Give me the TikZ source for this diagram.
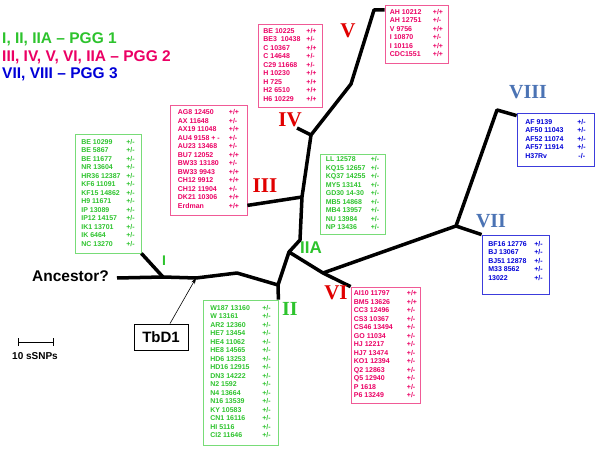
\documentclass[tikz,border=0pt]{standalone}
\usepackage{fontspec}
\setmainfont{Liberation Sans}
\newfontfamily\numfont{Liberation Serif}
\usetikzlibrary{arrows.meta,calc}
\definecolor{pgggreen}{RGB}{45,195,45}
\definecolor{boxgreen}{RGB}{120,220,120}
\definecolor{pggpink}{RGB}{235,0,100}
\definecolor{boxpink}{RGB}{240,90,150}
\definecolor{pggblue}{RGB}{0,0,215}
\definecolor{boxblue}{RGB}{60,60,220}
\definecolor{cladered}{RGB}{225,0,0}
\definecolor{cladeblue}{RGB}{75,115,180}
\tikzset{
  snpbox/.style={draw,line width=0.8pt,inner sep=0pt,font=\fontsize{7}{8.5}\selectfont\bfseries},
  greenbox/.style={snpbox,draw=boxgreen,text=pgggreen},
  pinkbox/.style={snpbox,draw=boxpink,text=pggpink},
  bluebox/.style={snpbox,draw=boxblue,text=pggblue},
  branch/.style={line width=3.5pt,line join=round},
  legend/.style={anchor=west,inner sep=0pt,font=\fontsize{15.5}{18}\selectfont\bfseries},
  redclade/.style={inner sep=0pt,text=cladered,font=\fontsize{21}{21}\selectfont\bfseries\numfont},
  blueclade/.style={inner sep=0pt,text=cladeblue,font=\fontsize{20}{20}\selectfont\bfseries\numfont}
}
\begin{document}
\begin{tikzpicture}[x=1pt,y=-1pt]
\useasboundingbox (0,0) rectangle (600,449);
\node[legend,text=pgggreen] (pgg1) at (2,39) {I, II, IIA – PGG 1};
\node[legend,text=pggpink] (pgg2) at (2,57) {III, IV, V, VI, IIA – PGG 2};
\node[legend,text=pggblue] (pgg3) at (2,74) {VII, VIII – PGG 3};

\node[greenbox,minimum width=66,minimum height=119] (boxI) at (108,193.5) {\begin{tabular}{@{}p{45pt}@{}l@{}}
BE 10299 & +/-\\ BE 5867 & +/-\\ BE 11677 & +/-\\ NR 13604 & +/-\\ HR36 12387 & +/-\\
KF6 11091 & +/-\\ KF15 14862 & +/-\\ H9 11671 & +/-\\ IP 13089 & +/-\\ IP12 14157 & +/-\\
IK1 13701 & +/-\\ IK 6464 & +/-\\ NC 13270 & +/-
\end{tabular}};
\node[pinkbox,minimum width=77,minimum height=110] (boxIII) at (208.5,160) {\begin{tabular}{@{}p{51pt}@{}l@{}}
AG8 12450 & +/+\\ AX 11648 & +/-\\ AX19 11048 & +/+\\ AU4 9158 + - & +/-\\ AU23 13468 & +/-\\
BU7 12052 & +/+\\ BW33 13180 & +/-\\ BW33 9943 & +/+\\ CH12 9912 & +/+\\ CH12 11904 & +/-\\
DK21 10306 & +/+\\ Erdman & +/+
\end{tabular}};
\node[pinkbox,minimum width=64,minimum height=83] (boxIV) at (290,65.5) {\begin{tabular}{@{}p{43pt}@{}l@{}}
BE 10225 & +/+\\ BE3\ \ 10438 & +/-\\ C 10367 & +/+\\ C 14648 & +/-\\ C29 11668 & +/-\\
H 10230 & +/+\\ H 725 & +/+\\ H2 6510 & +/+\\ H6 10229 & +/+
\end{tabular}};
\node[pinkbox,minimum width=63,minimum height=58] (boxV) at (416.5,34) {\begin{tabular}{@{}p{43pt}@{}l@{}}
AH 10212 & +/+\\ AH 12751 & +/-\\ V 9756 & +/+\\ I 10870 & +/-\\ I 10116 & +/+\\ CDC1551 & +/+
\end{tabular}};
\node[greenbox,minimum width=65,minimum height=80] (boxIIA) at (352.5,194) {\begin{tabular}{@{}p{45pt}@{}l@{}}
LL 12578 & +/-\\ KQ15 12657 & +/-\\ KQ37 14255 & +/-\\ MY5 13141 & +/-\\ GD30 14-30 & +/-\\
MB5 14868 & +/-\\ MB4 13957 & +/-\\ NU 13984 & +/-\\ NP 13436 & +/-
\end{tabular}};
\node[greenbox,minimum width=75,minimum height=145] (boxII) at (240.5,372.5) {\begin{tabular}{@{}p{52pt}@{}l@{}}
W187 13160 & +/-\\ W 13161 & +/-\\ AR2 12360 & +/-\\ HE7 13454 & +/-\\ HE4 11062 & +/-\\
HE8 14565 & +/-\\ HD6 13253 & +/-\\ HD16 12915 & +/-\\ DN3 14222 & +/-\\ N2 1592 & +/-\\
N4 13664 & +/-\\ N16 13539 & +/-\\ KY 10583 & +/-\\ CN1 16116 & +/-\\ HI 5116 & +/-\\
CI2 11646 & +/-
\end{tabular}};
\node[pinkbox,minimum width=69,minimum height=116] (boxVI) at (385.5,345) {\begin{tabular}{@{}p{53pt}@{}l@{}}
AI10 11797 & +/+\\ BM5 13626 & +/+\\ CC3 12496 & +/-\\ CS3 10367 & +/-\\ CS46 13494 & +/-\\
GO 11034 & +/-\\ HJ 12217 & +/-\\ HJ7 13474 & +/-\\ KO1 12394 & +/-\\ Q2 12863 & +/-\\
Q5 12940 & +/-\\ P 1618 & +/-\\ P6 13249 & +/-
\end{tabular}};
\node[bluebox,minimum width=67,minimum height=59] (boxVII) at (515.5,264.5) {\begin{tabular}{@{}p{46pt}@{}l@{}}
BF16 12776 & +/-\\ BJ 13067 & +/-\\ BJ51 12878 & +/-\\ M33 8562 & +/-\\ 13022 & +/-\\[6pt]
\end{tabular}};
\node[bluebox,minimum width=77,minimum height=53] (boxVIII) at (555.5,139.5) {\begin{tabular}{@{}p{52pt}@{}l@{}}
AF 9139 & +/-\\ AF50 11043 & +/-\\ AF52 11074 & +/-\\ AF57 11914 & +/-\\ H37Rv & \,-/-
\end{tabular}};

\coordinate (anc) at (117,278);
\coordinate (Ij) at (163,277);
\coordinate (tb) at (196,278);
\coordinate (bend) at (237,273);
\coordinate (IIj) at (278,285);
\coordinate (Aj) at (289,252);
\coordinate (IIAj) at (300,240);
\coordinate (IIIj) at (302,197);
\coordinate (IVj) at (311,135);
\coordinate (IVend) at (297,128);
\coordinate (Vbend) at (351,84);
\coordinate (Vj) at (374,10);
\coordinate (VIj) at (323,273);
\coordinate (VIIj) at (456,226);
\coordinate (VIIIj) at (497,110);

\draw[branch] (anc) -- (Ij) -- (tb) -- (bend) -- (IIj) -- (Aj) -- (IIAj) -- (IIIj) -- (IVj) -- (Vbend) -- (Vj) -- (Vj -| boxV.west);
\draw[branch] (Ij) -- (boxI.south east);
\draw[branch] (IIj) -- (boxII.north east);
\draw[branch] (IIIj) -- ($(boxIII.south east)+(0,-10)$);
\draw[branch] (IVj) -- (IVend);
\draw[branch] (Aj) -- (VIj) -- (boxVI.north west);
\draw[branch] (VIj) -- (VIIj) -- (VIIIj) -- ($(boxVIII.north west)+(0,3)$);
\draw[branch] (VIIj) -- (boxVII.north west);

\node[anchor=east,inner sep=0pt,font=\fontsize{15.5}{18}\selectfont\bfseries] (ancestor) at (109,276) {Ancestor?};
\node[draw,line width=0.8pt,minimum width=54,minimum height=26,inner sep=0pt,font=\fontsize{15}{18}\selectfont\bfseries] (tbd) at (161,337) {TbD1};
\draw[-{Stealth[length=6pt,width=4pt]},line width=0.6pt] ($(tbd.north)+(9,0)$) -- (tb);

\node[inner sep=0pt,text=pgggreen,font=\fontsize{14}{14}\selectfont\bfseries] (labI) at (164,261) {I};
\node[inner sep=0pt,text=pgggreen,font=\fontsize{20}{20}\selectfont\bfseries\numfont] (labII) at (290,309) {II};
\node[inner sep=0pt,text=pgggreen,font=\fontsize{17}{17}\selectfont\bfseries] (labIIA) at (311,248) {IIA};
\node[redclade] (labIII) at (265,186) {III};
\node[redclade] (labIV) at (290,120) {IV};
\node[redclade] (labV) at (348,31) {V};
\node[redclade] (labVI) at (336,293) {VI};
\node[blueclade] (labVII) at (491,221) {VII};
\node[blueclade] (labVIII) at (528,92) {VIII};

\draw[line width=1pt] (18,338) -- (18,346) (18,342) -- (53,342) (53,338) -- (53,346);
\node[inner sep=0pt,font=\fontsize{10}{12}\selectfont\bfseries] (sbar) at (35,356) {10 sSNPs};
\end{tikzpicture}
\end{document}
